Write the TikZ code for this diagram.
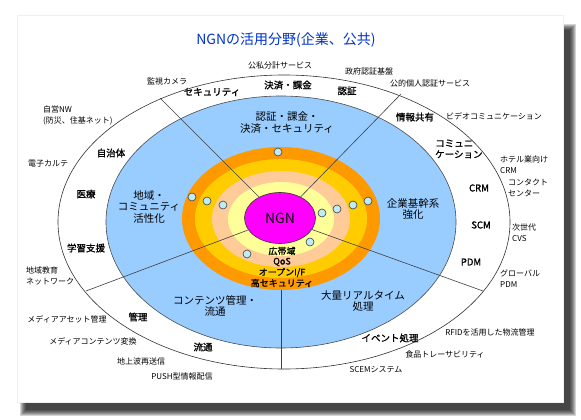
\documentclass[tikz,border=0pt]{standalone}
\usepackage{fontspec}
\setmainfont{Noto Sans CJK JP}
\newfontfamily\jpmed{Noto Sans CJK JP}[FakeBold=1.2]
\usetikzlibrary{shapes.geometric}
\definecolor{zoneblue}{RGB}{153,204,255}
\definecolor{ringorange}{RGB}{255,153,0}
\definecolor{ringgold}{RGB}{255,204,0}
\definecolor{ringpeach}{RGB}{255,204,153}
\definecolor{ringpale}{RGB}{255,255,153}
\definecolor{ngnmagenta}{RGB}{255,0,255}
\definecolor{dotcyan}{RGB}{190,235,245}
\definecolor{titleblue}{RGB}{0,51,204}

\begin{document}
\begin{tikzpicture}[x=1pt, y=-1pt,
    ring/.style={ellipse, inner sep=0pt},
    sep/.style={black!75, line width=0.6pt},
    dot/.style={circle, draw=black!75, line width=0.6pt, fill=dotcyan, minimum size=8pt, inner sep=0pt},
    small/.style={font=\fontsize{8}{11}\selectfont, inner sep=0pt, align=left},
    sect/.style={font=\fontsize{9.5}{11}\selectfont\jpmed, inner sep=0pt, align=left},
    zone/.style={font=\fontsize{10.5}{11.5}\selectfont, inner sep=0pt, align=center},
    core/.style={font=\fontsize{9}{10.5}\selectfont\jpmed, inner sep=0pt, align=center}]
  \useasboundingbox (0,0) rectangle (581,420);
  % card with shadow
  \foreach \d in {0,...,6}
    \fill[black, opacity=0.17] (20+\d,24+\d) rectangle (576-\d,416-\d);
  \fill[white, draw=black!6] (17,15) rectangle (563,402);

  \node[font=\fontsize{14}{16}\selectfont, text=titleblue] (title) at (286,40) {NGNの活用分野(企業、公共)};

  % ellipses
  \node[ring, draw=black!80, line width=0.6pt, fill=white, minimum width=452pt, minimum height=294pt] (outer) at (284,222) {};
  \node[ring, draw=black!70, line width=0.6pt, fill=zoneblue, minimum width=350pt, minimum height=252pt] (zone) at (281,222) {};
  \node[ring, fill=ringorange, minimum width=198pt, minimum height=143pt] (ring1) at (281,218.5) {};
  \node[ring, fill=ringgold, minimum width=172pt, minimum height=119pt] (ring2) at (281,218.5) {};
  \node[ring, fill=ringpeach, minimum width=138pt, minimum height=96pt] (ring3) at (281,219) {};
  \node[ring, fill=ringpale, minimum width=106pt, minimum height=74pt] (ring4) at (281,219) {};
  \node[ring, draw=black!80, line width=0.6pt, fill=ngnmagenta, minimum width=71pt, minimum height=51pt, font=\fontsize{14}{16}\selectfont] (ngn) at (280,218) {NGN};

  % sector lines
  \coordinate (ul) at (160,98);
  \coordinate (ur) at (401,94);
  \coordinate (ll) at (86,291);
  \coordinate (lr) at (483,291);
  \coordinate (bt) at (281,369);
  \draw[sep] (ngn) -- (ul);
  \draw[sep] (ngn) -- (ur);
  \draw[sep] (ngn) -- (ll);
  \draw[sep] (ngn) -- (lr);
  \draw[sep] (ring1.south) -- (bt);

  % dots on the rings
  \foreach \x/\y [count=\i] in {278/152, 192/197, 207/201, 223/205, 322/213, 337/209, 353/205, 368/201, 310/242, 247/254}
    \node[dot] (dot\i) at (\x,\y) {};

  % core features
  \node[core] (wide) at (282,251) {広帯域};
  \node[core] (qos) at (282,262) {QoS};
  \node[core] (openif) at (282,272.5) {オープンI/F};
  \node[core] (secure) at (282,283) {高セキュリティ};

  % application zones
  \node[zone] (zauth) at (287,122.5) {認証・課金・\\決済・セキュリティ};
  \node[zone] (zbiz) at (413,209) {企業基幹系\\強化};
  \node[zone] (zlocal) at (149,207) {地域・\\コミュニティ\\活性化};
  \node[zone] (zcont) at (215,306) {コンテンツ管理・\\流通};
  \node[zone] (zreal) at (363,301) {大量リアルタイム\\処理};

  % sections of the outer ring
  \node[sect] (ssec) at (212,92) {セキュリティ};
  \node[sect] (spay) at (288,85) {決済・課金};
  \node[sect] (scert) at (347,91) {認証};
  \node[sect] (sinfo) at (415,117) {情報共有};
  \node[sect, anchor=west] (scomm) at (435,149) {コミュニ\\ケーション};
  \node[sect] (scrm) at (479,188) {CRM};
  \node[sect] (sscm) at (481,225) {SCM};
  \node[sect] (spdm) at (471,262) {PDM};
  \node[sect] (sgov) at (111,153) {自治体};
  \node[sect] (smed) at (86,194) {医療};
  \node[sect] (sedu) at (86,248) {学習支援};
  \node[sect] (smgmt) at (138,317) {管理};
  \node[sect] (sdist) at (203,347) {流通};
  \node[sect] (sevent) at (390,338) {イベント処理};

  % examples outside
  \node[small] (e1) at (280,65) {公私分計サービス};
  \node[small] (e2) at (369,71) {政府認証基盤};
  \node[small] (e3) at (430,83) {公的個人認証サービス};
  \node[small] (e4) at (167,81) {監視カメラ};
  \node[small, anchor=west] (e5) at (43,115) {自営NW\\(防災、住基ネット)};
  \node[small] (e6) at (48,164) {電子カルテ};
  \node[small, anchor=west] (e7) at (26,276) {地域教育\\ネットワーク};
  \node[small] (e8) at (67,319) {メディアアセット管理};
  \node[small] (e9) at (93,341) {メディアコンテンツ変換};
  \node[small] (e10) at (141,361) {地上波再送信};
  \node[small] (e11) at (182,376) {PUSH型情報配信};
  \node[small] (e12) at (376,370) {SCEMシステム};
  \node[small] (e13) at (445,354) {食品トレーサビリティ};
  \node[small] (e14) at (490,332) {RFIDを活用した物流管理};
  \node[small, anchor=west] (e15) at (500,279) {グローバル\\PDM};
  \node[small, anchor=west] (e16) at (512,233) {次世代\\CVS};
  \node[small, anchor=west] (e17) at (508,188) {コンタクト\\センター};
  \node[small, anchor=west] (e18) at (500,164.5) {ホテル業向け\\CRM};
  \node[small] (e19) at (494,116) {ビデオコミュニケーション};
\end{tikzpicture}
\end{document}
